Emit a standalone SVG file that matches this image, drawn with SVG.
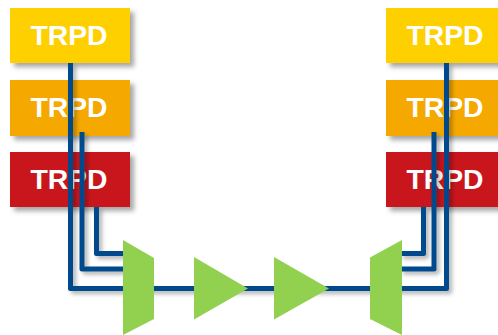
<svg xmlns="http://www.w3.org/2000/svg" width="498" height="335" viewBox="0 0 498 335">
  <defs>
    <filter id="shadow" x="-20%" y="-20%" width="150%" height="150%">
      <feDropShadow dx="4" dy="4" stdDeviation="2.5" flood-color="#000" flood-opacity="0.35"/>
    </filter>
    <filter id="lineShadow" x="-10%" y="-10%" width="130%" height="130%">
      <feDropShadow dx="3" dy="3" stdDeviation="2" flood-color="#000" flood-opacity="0.3"/>
    </filter>
  </defs>
  <style>
    .box { filter: url(#shadow); }
    .yellow { fill: #FFD000; }
    .orange { fill: #F5A800; }
    .red { fill: #C8161E; }
    .label { font-family: "Liberation Sans", Arial, sans-serif; font-weight: bold; font-size: 28.3px; fill: #ffffff; text-anchor: middle; }
    .fiber { fill: none; stroke: #034A8C; stroke-width: 5; stroke-linejoin: round; }
    .green { fill: #92D050; }
  </style>

  <!-- left transceivers -->
  <g id="trpd-left-1"><rect class="box yellow" x="10" y="8" width="120" height="55"/><text class="label" x="69" y="44.5">TRPD</text></g>
  <g id="trpd-left-2"><rect class="box orange" x="10" y="80" width="120" height="56"/><text class="label" x="69" y="117">TRPD</text></g>
  <g id="trpd-left-3"><rect class="box red" x="10" y="152" width="120" height="55"/><text class="label" x="69" y="189.3">TRPD</text></g>

  <!-- right transceivers -->
  <g id="trpd-right-1"><rect class="box yellow" x="386" y="8" width="120" height="55"/><text class="label" x="445" y="44.5">TRPD</text></g>
  <g id="trpd-right-2"><rect class="box orange" x="386" y="80" width="120" height="56"/><text class="label" x="445" y="117">TRPD</text></g>
  <g id="trpd-right-3"><rect class="box red" x="386" y="152" width="120" height="55"/><text class="label" x="445" y="189.3">TRPD</text></g>

  <!-- fibers -->
  <g id="connectors" filter="url(#lineShadow)">
    <path class="fiber" d="M70.5 63 V288.5 H446.5 V63"/>
    <path class="fiber" d="M82 132 V269 H125"/>
    <path class="fiber" d="M96.5 207 V253.5 H125"/>
    <path class="fiber" d="M434 132 V269 H400"/>
    <path class="fiber" d="M423.5 207 V253.5 H400"/>
  </g>

  <!-- multiplexer -->
  <g id="mux"><polygon class="green" points="123,240 154,258 154,319 123,335"/></g>
  <!-- amplifiers -->
  <g id="amp-1"><polygon class="green" points="194,257 248,288.5 194,319.5"/></g>
  <g id="amp-2"><polygon class="green" points="274,257 329,288.5 274,319.5"/></g>
  <!-- demultiplexer -->
  <g id="demux"><polygon class="green" points="370,257.5 402,240 402,335 370,319"/></g>
</svg>
